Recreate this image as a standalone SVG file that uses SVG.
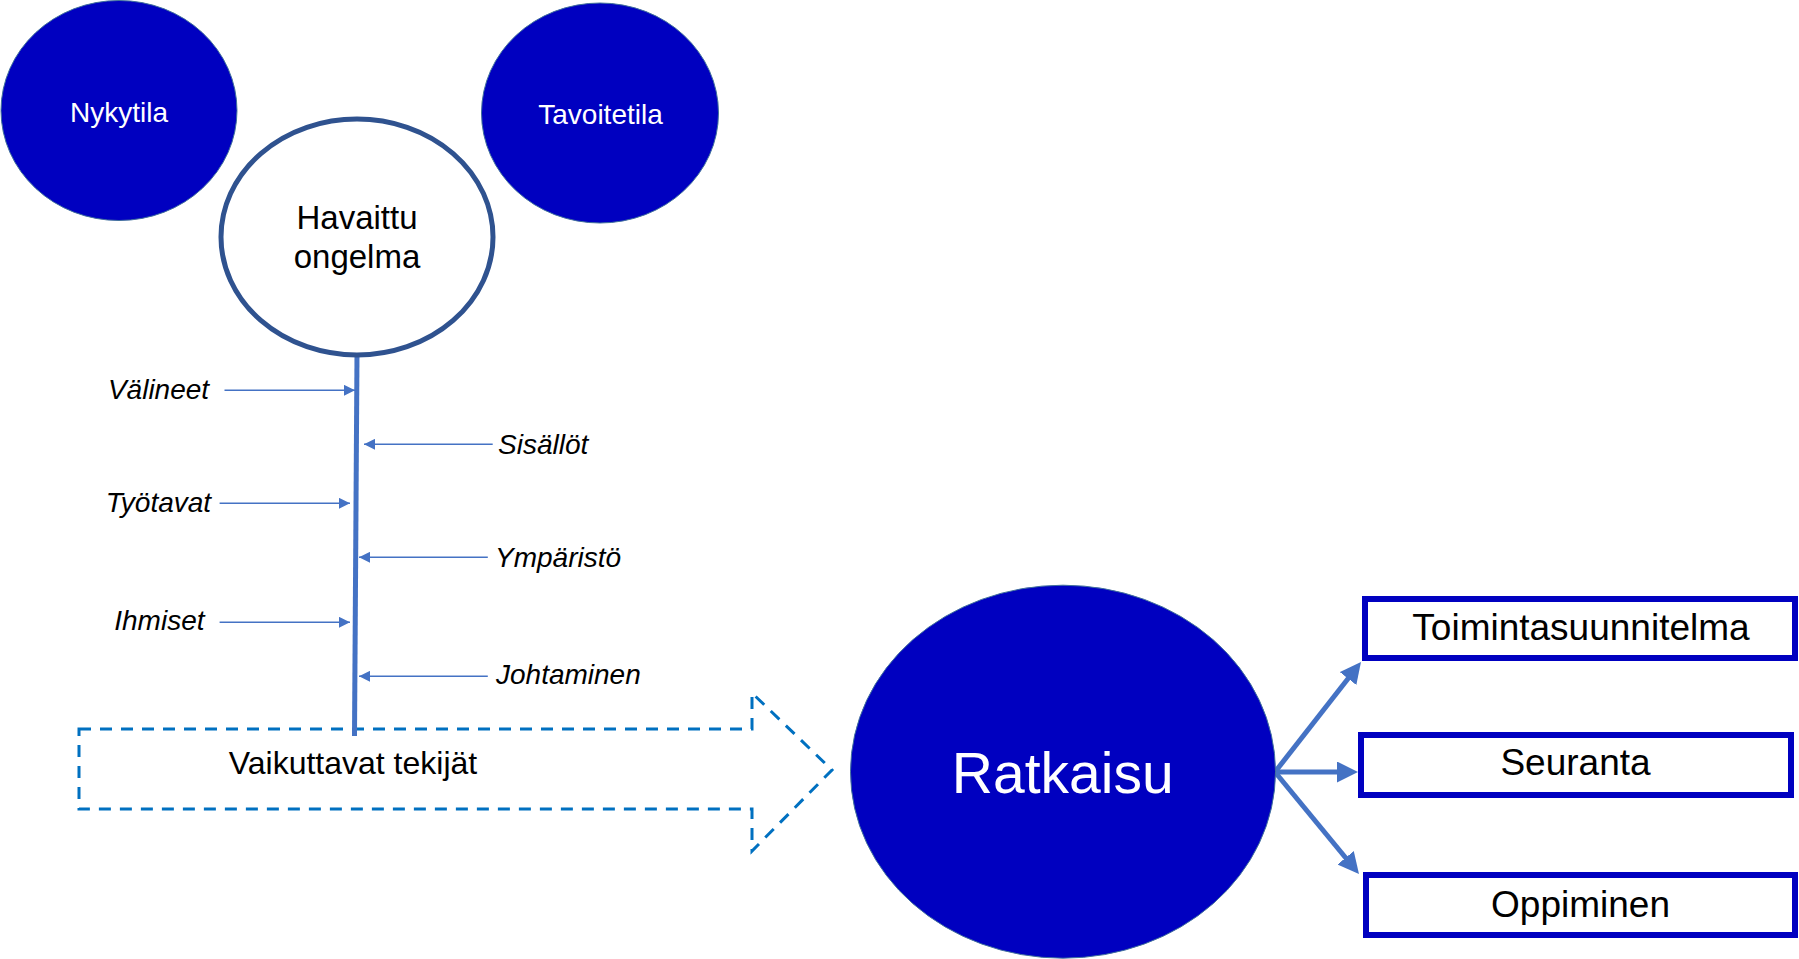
<svg xmlns="http://www.w3.org/2000/svg" width="1799" height="959" viewBox="0 0 1799 959">
<style>
  .blue { fill: #0000C0; stroke: #41719C; stroke-width: 1; }
  .wt { fill: #FFFFFF; font-family: "Liberation Sans", Arial, sans-serif; text-anchor: middle; }
  .bt { fill: #000000; font-family: "Liberation Sans", Arial, sans-serif; }
  .it { fill: #000000; font-family: "Liberation Sans", Arial, sans-serif; font-style: italic; font-size: 28px; }
  .box { fill: #FFFFFF; stroke: #0000C0; stroke-width: 6; }
  .thin { stroke: #4472C4; stroke-width: 1.5; fill: none; }
  .thick { stroke: #4472C4; stroke-width: 5; fill: none; }
</style>
<defs>
  <marker id="sa" markerUnits="userSpaceOnUse" markerWidth="11" markerHeight="11" refX="11" refY="5.5" orient="auto">
    <path d="M0,0 L11,5.5 L0,11 z" fill="#4472C4"/>
  </marker>
  <marker id="ba" markerUnits="userSpaceOnUse" markerWidth="21" markerHeight="21" refX="10" refY="10.5" orient="auto">
    <path d="M0,0 L21,10.5 L0,21 z" fill="#4472C4"/>
  </marker>
</defs>
<rect width="1799" height="959" fill="#FFFFFF"/>

<g id="vaikuttavat">
  <polygon points="79,729 752,729 752,693 832,770 752,851 752,809 79,809" fill="none" stroke="#0070C0" stroke-width="3" stroke-dasharray="12 9"/>
  <text class="bt" x="353" y="774" font-size="32" text-anchor="middle">Vaikuttavat tekijät</text>
</g>

<g id="nykytila">
  <ellipse class="blue" cx="119" cy="110.5" rx="118" ry="110"/>
  <text class="wt" x="119" y="122" font-size="28">Nykytila</text>
</g>

<g id="tavoitetila">
  <ellipse class="blue" cx="600" cy="113" rx="118.5" ry="110"/>
  <text class="wt" x="600.5" y="124" font-size="28">Tavoitetila</text>
</g>

<g id="connectors">
  <line x1="357" y1="354" x2="354.5" y2="736" stroke="#4472C4" stroke-width="5"/>
  <line class="thin" x1="224.5" y1="390.3" x2="355" y2="390.3" marker-end="url(#sa)"/>
  <line class="thin" x1="492.7" y1="444.3" x2="364" y2="444.3" marker-end="url(#sa)"/>
  <line class="thin" x1="219.6" y1="503.3" x2="350" y2="503.3" marker-end="url(#sa)"/>
  <line class="thin" x1="487.8" y1="557.3" x2="359" y2="557.3" marker-end="url(#sa)"/>
  <line class="thin" x1="219.6" y1="622.3" x2="350" y2="622.3" marker-end="url(#sa)"/>
  <line class="thin" x1="487.8" y1="676.3" x2="359" y2="676.3" marker-end="url(#sa)"/>
  <line class="thick" x1="1275" y1="772" x2="1354.2" y2="670.7" marker-end="url(#ba)"/>
  <line class="thick" x1="1275" y1="772" x2="1347" y2="772" marker-end="url(#ba)"/>
  <line class="thick" x1="1275" y1="772" x2="1352" y2="865.5" marker-end="url(#ba)"/>
</g>

<g id="havaittu">
  <ellipse cx="357" cy="237" rx="136" ry="118" fill="#FFFFFF" stroke="#2F528F" stroke-width="5"/>
  <text class="bt" x="357" y="229" font-size="33" text-anchor="middle">Havaittu</text>
  <text class="bt" x="357" y="268" font-size="33" text-anchor="middle">ongelma</text>
</g>

<g id="labels">
  <text class="it" x="158.5" y="399" text-anchor="middle">Välineet</text>
  <text class="it" x="498" y="454">Sisällöt</text>
  <text class="it" x="158.5" y="512" text-anchor="middle">Työtavat</text>
  <text class="it" x="495" y="567">Ympäristö</text>
  <text class="it" x="159.4" y="630" text-anchor="middle">Ihmiset</text>
  <text class="it" x="496" y="684">Johtaminen</text>
</g>

<g id="ratkaisu">
  <ellipse class="blue" cx="1063" cy="771.7" rx="212.5" ry="186.5"/>
  <text class="wt" x="1062.7" y="793" font-size="57">Ratkaisu</text>
</g>

<g id="toimintasuunnitelma">
  <rect class="box" x="1365" y="599" width="430" height="59"/>
  <text class="bt" x="1581" y="640" font-size="37" text-anchor="middle">Toimintasuunnitelma</text>
</g>

<g id="seuranta">
  <rect class="box" x="1361" y="735" width="430" height="60"/>
  <text class="bt" x="1575.5" y="775" font-size="37" text-anchor="middle">Seuranta</text>
</g>

<g id="oppiminen">
  <rect class="box" x="1366" y="875" width="429" height="60"/>
  <text class="bt" x="1580.5" y="917" font-size="37" text-anchor="middle">Oppiminen</text>
</g>
</svg>
